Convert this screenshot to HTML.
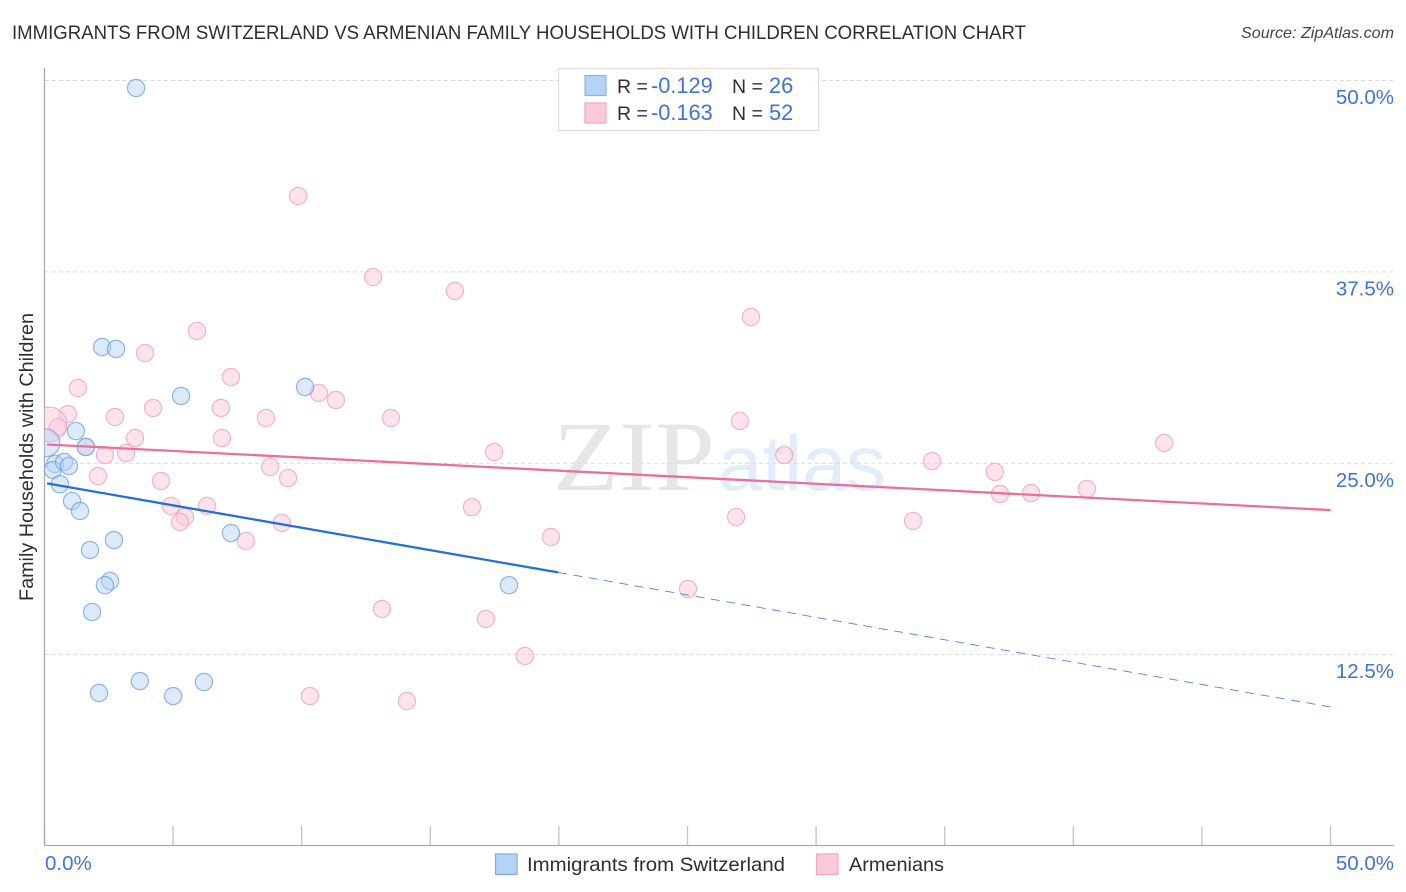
<!DOCTYPE html>
<html>
<head>
<meta charset="utf-8">
<title>Immigrants from Switzerland vs Armenian Family Households with Children Correlation Chart</title>
<style>
html,body{margin:0;padding:0;background:#fff;}
body{width:1406px;height:892px;overflow:hidden;}
svg{display:block;font-family:"Liberation Sans",sans-serif;}
</style>
</head>
<body>
<svg id="chart" width="1406" height="892" viewBox="0 0 1406 892" xmlns="http://www.w3.org/2000/svg">
  <defs>
    <clipPath id="plot-clip"><rect x="44.5" y="60" width="1350" height="785"/></clipPath>
  </defs>
  <text x="12" y="39" font-size="19.6" fill="#2b2f33" textLength="1014" lengthAdjust="spacingAndGlyphs">IMMIGRANTS FROM SWITZERLAND VS ARMENIAN FAMILY HOUSEHOLDS WITH CHILDREN CORRELATION CHART</text>
  <text x="1394" y="38" font-size="16" font-style="italic" fill="#444" text-anchor="end" textLength="153" lengthAdjust="spacingAndGlyphs">Source: ZipAtlas.com</text>

  <g>
    <text x="553" y="490" font-family="'Liberation Serif',serif" font-size="100" fill="#e6e6e6" textLength="162" lengthAdjust="spacingAndGlyphs">ZIP</text>
    <text x="718" y="490" font-size="78" fill="#e3ecfa" textLength="168" lengthAdjust="spacingAndGlyphs">atlas</text>
  </g>

  <g id="grid"></g>
  <g id="xticks"></g>
  <line x1="44.5" y1="68" x2="44.5" y2="845.5" stroke="#aaa" stroke-width="1.3"/>
  <line x1="44" y1="845.5" x2="1394" y2="845.5" stroke="#aaa" stroke-width="1.3"/>
  <g id="ylabels"></g>
  <text x="45" y="870" font-size="20.5" fill="#3f73d6">0.0%</text>
  <text x="1394" y="870" font-size="20.5" fill="#3f73d6" text-anchor="end">50.0%</text>
  <text transform="translate(33,457) rotate(-90)" font-size="19.8" fill="#2b2f33" text-anchor="middle">Family Households with Children</text>

  <g id="points" clip-path="url(#plot-clip)"></g>
  <g id="trends"></g>

  <g>
    <rect x="558.5" y="68.5" width="260" height="62" fill="#fff" fill-opacity="0.9" stroke="#ddd" stroke-width="1.2"/>
    <rect x="585" y="75.500" width="21" height="20" fill="#b5d3f7" stroke="#8db4e6" stroke-width="1.2"/>
    <rect x="585" y="103" width="21" height="20" fill="#fcc9da" stroke="#f0a9c0" stroke-width="1.2"/>
    <text y="93" font-size="19.500" fill="#2b2f33"><tspan x="617">R = </tspan><tspan x="651" fill="#3f73d6" font-size="21.800">-0.129</tspan><tspan x="732">N = </tspan><tspan x="769" fill="#3f73d6" font-size="21.800">26</tspan></text>
    <text y="120" font-size="19.500" fill="#2b2f33"><tspan x="617">R = </tspan><tspan x="651" fill="#3f73d6" font-size="21.800">-0.163</tspan><tspan x="732">N = </tspan><tspan x="769" fill="#3f73d6" font-size="21.800">52</tspan></text>
  </g>

  <g>
    <rect x="495.500" y="854" width="21.500" height="20.500" fill="#b5d3f7" stroke="#7fa9e0" stroke-width="1.200"/>
    <text x="527" y="871" font-size="19.500" fill="#2b2f33" textLength="258" lengthAdjust="spacingAndGlyphs">Immigrants from Switzerland</text>
    <rect x="816.500" y="854" width="21.500" height="20.500" fill="#fcc9da" stroke="#f0a9c0" stroke-width="1.200"/>
    <text x="849" y="871" font-size="19.500" fill="#2b2f33" textLength="95" lengthAdjust="spacingAndGlyphs">Armenians</text>
  </g>
</svg>
<script>
var yTicks = [50, 37.5, 25, 12.5];
var yTickLabels = ["50.0%", "37.5%", "25.0%", "12.5%"];
var xTicks = [0, 5, 10, 15, 20, 25, 30, 35, 40, 45, 50];

var swissX = [3.56, 2.24, 2.78, 5.31, 10.13, 1.22, 1.61, 0.06, 0.41, 0.33, 0.76, 0.95, 0.6, 1.07, 1.38, 1.77, 2.7, 2.55, 2.35, 1.85, 2.12, 3.71, 5.0, 6.2, 7.25, 18.06];
var swissY = [49.48, 32.56, 32.43, 29.36, 29.95, 27.07, 26.03, 26.3, 24.92, 24.53, 25.05, 24.79, 23.6, 22.5, 21.85, 19.3, 19.95, 17.28, 17.0, 15.25, 9.96, 10.74, 9.76, 10.68, 20.41, 17.0];
var swissSize = [1, 1, 1, 1, 1, 1, 1, 1.6, 1, 1, 1, 1, 1, 1, 1, 1, 1, 1, 1, 1, 1, 1, 1, 1, 1, 1];

var armenianX = [9.86, 12.77, 15.96, 27.47, 5.93, 3.91, 7.25, 1.3, 10.67, 11.33, 4.22, 6.86, 0.91, 2.74, 8.61, 13.47, 27.04, 0.52, 0.2, 3.52, 6.9, 43.53, 1.61, 2.35, 3.17, 17.48, 28.76, 34.51, 8.77, 36.95, 2.08, 9.47, 4.53, 40.53, 37.15, 38.36, 4.92, 6.32, 16.62, 26.89, 33.77, 5.46, 5.27, 9.23, 19.69, 7.83, 25.02, 13.12, 17.16, 18.68, 10.32, 14.09];
var armenianY = [42.42, 37.13, 36.22, 34.52, 33.61, 32.17, 30.6, 29.88, 29.56, 29.1, 28.58, 28.58, 28.18, 27.99, 27.92, 27.92, 27.73, 27.33, 27.5, 26.62, 26.62, 26.29, 26.03, 25.5, 25.64, 25.7, 25.5, 25.11, 24.72, 24.4, 24.13, 24.0, 23.81, 23.29, 22.96, 23.02, 22.18, 22.18, 22.1, 21.46, 21.2, 21.46, 21.13, 21.07, 20.15, 19.89, 16.75, 15.45, 14.8, 12.38, 9.76, 9.44];
var armenianSize = [1, 1, 1, 1, 1, 1, 1, 1, 1, 1, 1, 1, 1, 1, 1, 1, 1, 1, 2, 1, 1, 1, 1, 1, 1, 1, 1, 1, 1, 1, 1, 1, 1, 1, 1, 1, 1, 1, 1, 1, 1, 1, 1, 1, 1, 1, 1, 1, 1, 1, 1, 1];

var swissTrend = [23.68, 9.05];
var armenianTrend = [26.2, 21.91];
var swissSolidEnd = 19.97;

var NS = "http://www.w3.org/2000/svg";
function xScale(v) { return 44.5 + v * 25.72; }
function yScale(v) { return 80 + (50 - v) * 15.31; }
function make(tag, attrs, parent) {
  var el = document.createElementNS(NS, tag);
  for (var k in attrs) { el.setAttribute(k, attrs[k]); }
  parent.appendChild(el);
  return el;
}
function trendAt(t, x) { return t[0] + (t[1] - t[0]) * x / 50; }

var gridG = document.getElementById("grid");
var labelG = document.getElementById("ylabels");
var labelRight = 1394;
yTicks.forEach(function (t, i) {
  var ln = make("line", {x1: 45, x2: 1394, y1: yScale(t) + 0.5, y2: yScale(t) + 0.5, stroke: "#dcdcdc", "stroke-width": 1, "stroke-dasharray": "4 3"}, gridG);
  
  
  var tx = make("text", {x: labelRight, y: yScale(t) + 24, "font-size": 20.500, fill: "#3f73d6", "text-anchor": "end"}, labelG);
  tx.textContent = yTickLabels[i];
  
  
});

var tickG = document.getElementById("xticks");
xTicks.forEach(function (t) {
  var tk = make("line", {x1: xScale(t), x2: xScale(t), y1: 826, y2: 845, stroke: "#c4c4c4", "stroke-width": 1.300}, tickG);
  
  
});

var ptG = document.getElementById("points");
function drawSeries(xs, ys, sizes, fill, stroke, name) {
  xs.forEach(function (x, i) {
    var c = make("circle", {cx: xScale(x), cy: yScale(ys[i]), r: 8.600 * sizes[i], fill: fill, "fill-opacity": 0.48, stroke: stroke, "stroke-opacity": 0.75, "stroke-width": 1.200}, ptG);
    
    
  });
}
drawSeries(armenianX, armenianY, armenianSize, "#fbc6d8", "#ee9db9", "armenians-point");
drawSeries(swissX, swissY, swissSize, "#b5d3f7", "#6b9fe2", "switzerland-point");

var trendG = document.getElementById("trends");
var a = make("line", {x1: xScale(0.1), y1: yScale(trendAt(armenianTrend, 0.1)), x2: xScale(50), y2: yScale(trendAt(armenianTrend, 50)), stroke: "#e8709b", "stroke-width": 2.300}, trendG);


var b = make("line", {x1: xScale(0.1), y1: yScale(trendAt(swissTrend, 0.1)), x2: xScale(swissSolidEnd), y2: yScale(trendAt(swissTrend, swissSolidEnd)), stroke: "#2470d8", "stroke-width": 2.300}, trendG);


var d = make("line", {x1: xScale(swissSolidEnd), y1: yScale(trendAt(swissTrend, swissSolidEnd)), x2: xScale(50), y2: yScale(trendAt(swissTrend, 50)), stroke: "#4a86dc", "stroke-width": 0.900, "stroke-dasharray": "9 6.5"}, trendG);


</script>
</body>
</html>
